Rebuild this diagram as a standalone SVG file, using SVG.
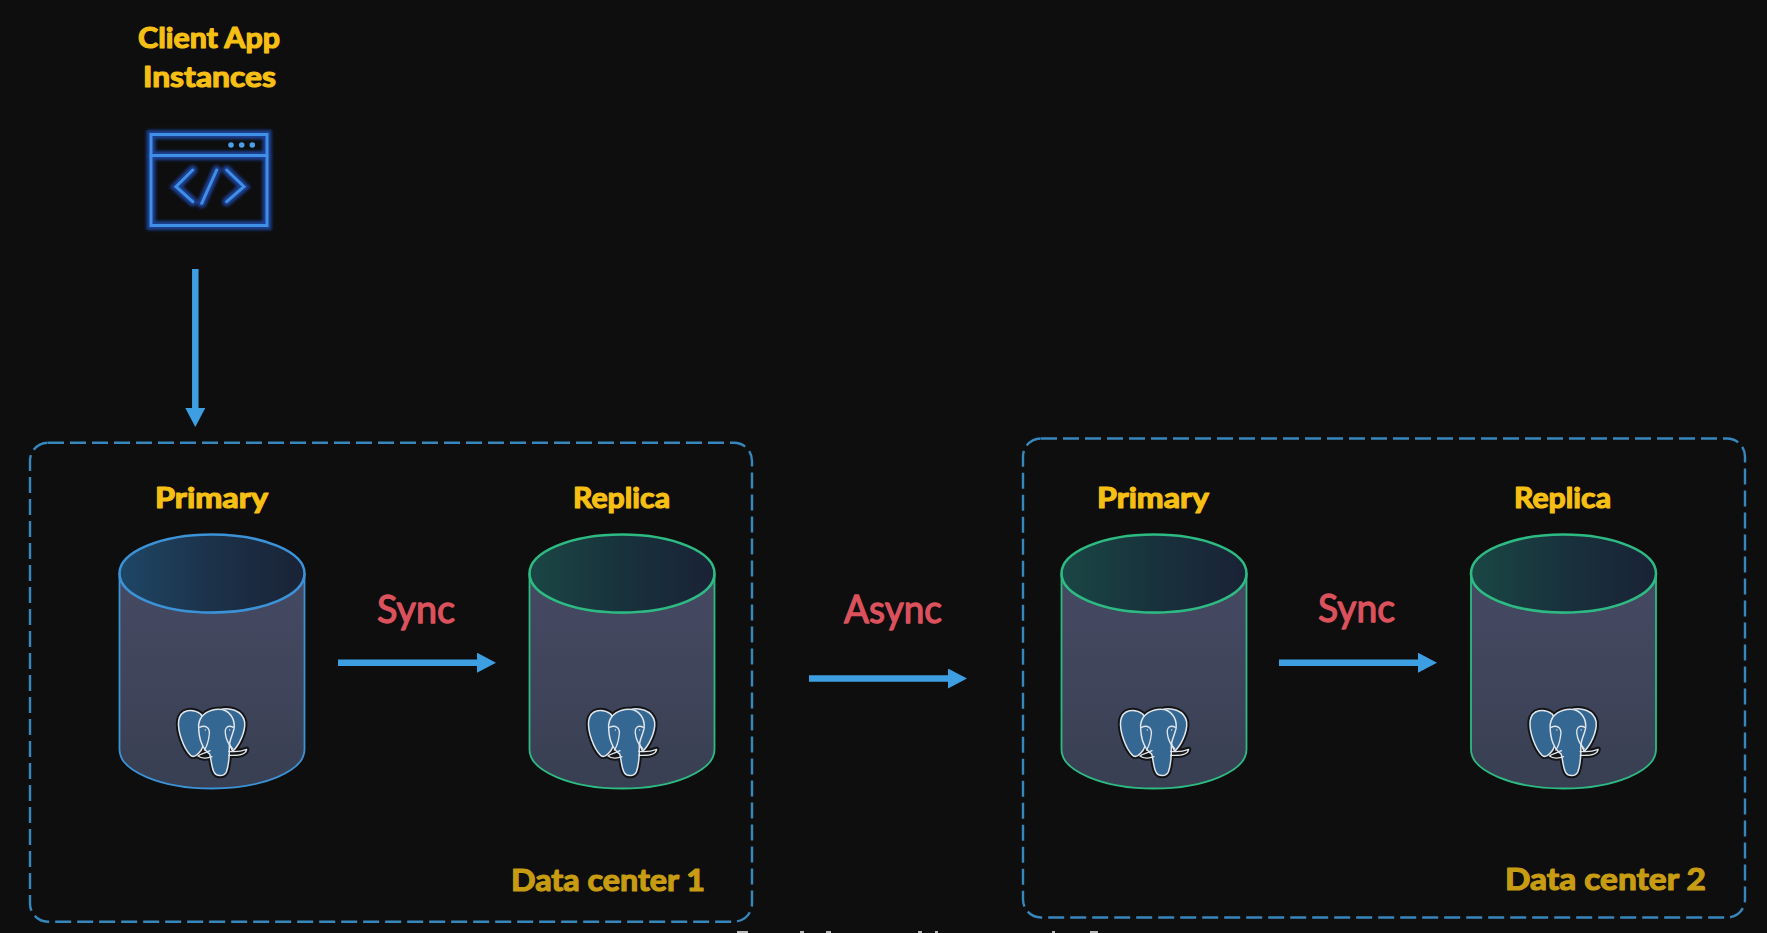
<svg xmlns="http://www.w3.org/2000/svg" xmlns:xlink="http://www.w3.org/1999/xlink" width="1767" height="933" viewBox="0 0 1767 933">
<style>
.lbl{font-family:"Lato","Noto Sans",sans-serif;font-weight:700;stroke-linejoin:round}
.y{fill:#f6bf14;stroke:#f6bf14;stroke-width:1.2;font-size:29px}
.d{fill:#c79c13;stroke:#c79c13;stroke-width:1.2;font-size:31px}
.r{fill:#db525c;stroke:#db525c;stroke-width:1.3;font-size:38px;font-weight:400}
.box{fill:none;stroke:#3787bd;stroke-width:2.4;stroke-dasharray:16 6}
.arrow{stroke:#3d9fe2;stroke-width:6.500;fill:none;marker-end:url(#head)}
.body{fill:url(#bodyG);stroke-width:1.8}
.top{stroke-width:2.6}
.blue{stroke:#3c92d6}.green{stroke:#2dbb83}
.ic{fill:none;stroke:#3f8fe6;stroke-width:3;stroke-linecap:round}
.icg{fill:none;stroke:#1b3f93;stroke-width:9;stroke-linecap:round;filter:url(#glow)}
</style>
<defs>
<linearGradient id="bodyG" x1="0" y1="0" x2="0" y2="1"><stop offset="0" stop-color="#454a63"/><stop offset="1" stop-color="#393f52"/></linearGradient>
<linearGradient id="topB" x1="0" y1="0" x2="1" y2="0"><stop offset="0" stop-color="#1f4666"/><stop offset=".5" stop-color="#1b3249"/><stop offset="1" stop-color="#1a2236"/></linearGradient>
<linearGradient id="topG" x1="0" y1="0" x2="1" y2="0"><stop offset="0" stop-color="#1a4644"/><stop offset=".5" stop-color="#18323c"/><stop offset="1" stop-color="#1a2236"/></linearGradient>
<filter id="glow" x="-20%" y="-20%" width="140%" height="140%"><feGaussianBlur stdDeviation="1.500"/></filter>
<marker id="head" markerUnits="userSpaceOnUse" markerWidth="20" markerHeight="20" refX="1" refY="10" orient="auto"><path d="M0 0L19 10L0 20Z" fill="#3d9fe2"/></marker>
<path id="bodyP" d="M-92.5 0V176A92.5 39 0 0 0 92.5 176V0A92.5 39 0 0 1 -92.5 0Z"/>
<path id="earL" d="M122 72C98 54 62 58 56 92C52 125 72 178 92 196C102 204 112 196 124 180L150 120Z"/>
<path id="earR" d="M178 60C205 50 248 60 254 96C257 126 236 168 218 184L190 120Z"/>
<path id="head1" d="M116 104C120 72 150 58 176 58C208 58 226 86 222 116C218 136 208 150 208 168L208 190C207 212 202 238 199 246C192 260 170 260 163 248C154 234 154 206 149 192C130 180 115 150 116 104Z"/>
<g id="elephant">
 <g fill="#131416" stroke="#131416" stroke-width="16" stroke-linejoin="round"><use href="#earL"/><use href="#earR"/><use href="#head1"/><path d="M206 184C225 186 245 184 260 178C258 192 240 198 206 196Z"/><path d="M150 182C135 190 120 192 114 198C124 206 142 206 156 200Z"/></g>
 <g fill="#356793" stroke="#e0e6ec" stroke-width="4.500" stroke-linejoin="round"><use href="#earL"/><use href="#earR"/><use href="#head1"/></g>
 <g fill="none" stroke="#e0e6ec" stroke-width="4" stroke-linecap="round" stroke-linejoin="round"><path d="M119 112C135 104 150 112 148 132C146 150 142 168 133 180"/><path d="M220 112C205 104 194 112 196 130C198 148 206 164 218 176"/><path d="M206 184C225 186 245 184 260 178C258 192 240 198 206 196"/><path d="M150 182C135 190 120 192 114 198C124 206 142 206 156 200"/></g>
 <circle cx="136" cy="120" r="2" fill="#e0e6ec"/><circle cx="209" cy="120" r="2" fill="#e0e6ec"/>
</g>
</defs>
<rect width="1767" height="933" fill="#0e0e0f"/>

<g id="client-app">
 <text class="lbl y" x="138" y="48" textLength="142" lengthAdjust="spacingAndGlyphs">Client App</text>
 <text class="lbl y" x="143" y="87" textLength="133" lengthAdjust="spacingAndGlyphs">Instances</text>
 <g class="icg"><rect x="151" y="134.500" width="116" height="91"/><path d="M151 155.500H267M192.700 170L176 186.700L192.700 201.700M226.700 170L244 186.700L226.700 201.700M216.700 170L201.700 203.300"/></g>
 <g class="ic"><rect x="151" y="134.500" width="116" height="91"/><path d="M151 155.500H267M192.700 170L176 186.700L192.700 201.700M226.700 170L244 186.700L226.700 201.700M216.700 170L201.700 203.300"/></g>
 <g fill="#4a9fe8"><circle cx="231" cy="145" r="2.800"/><circle cx="241.700" cy="145" r="2.800"/><circle cx="252.300" cy="145" r="2.800"/></g>
</g>

<g id="dc1">
 <rect class="box" x="30" y="442.700" width="722" height="479" rx="18"/>
 <text class="lbl d" x="511" y="890.500" textLength="194" lengthAdjust="spacingAndGlyphs">Data center 1</text>
</g>
<g id="dc2">
 <rect class="box" x="1023" y="438.500" width="722" height="479" rx="18"/>
 <text class="lbl d" x="1505" y="890" textLength="201" lengthAdjust="spacingAndGlyphs">Data center 2</text>
</g>

<g id="connectors">
 <line class="arrow" x1="195.300" y1="269" x2="195.300" y2="409"/>
 <line class="arrow" x1="338" y1="662.700" x2="478" y2="662.700"/>
 <line class="arrow" x1="809" y1="678.500" x2="949" y2="678.500"/>
 <line class="arrow" x1="1279" y1="662.700" x2="1419" y2="662.700"/>
</g>

<g id="primary-1">
 <text class="lbl y" x="155" y="508" textLength="113" lengthAdjust="spacingAndGlyphs">Primary</text>
 <g transform="translate(212,573.500)"><use href="#bodyP" class="body blue"/><ellipse rx="92.500" ry="39" fill="url(#topB)" class="top blue"/><use href="#elephant" transform="translate(-52,116.500) scale(.3333)"/></g>
</g>
<g id="replica-1">
 <text class="lbl y" x="573" y="508" textLength="97" lengthAdjust="spacingAndGlyphs">Replica</text>
 <g transform="translate(622,573.500)"><use href="#bodyP" class="body green"/><ellipse rx="92.500" ry="39" fill="url(#topG)" class="top green"/><use href="#elephant" transform="translate(-52,116.500) scale(.3333)"/></g>
</g>
<g id="primary-2">
 <text class="lbl y" x="1097" y="508" textLength="112" lengthAdjust="spacingAndGlyphs">Primary</text>
 <g transform="translate(1154,573.500)"><use href="#bodyP" class="body green"/><ellipse rx="92.500" ry="39" fill="url(#topG)" class="top green"/><use href="#elephant" transform="translate(-52,116.500) scale(.3333)"/></g>
</g>
<g id="replica-2">
 <text class="lbl y" x="1514" y="508" textLength="97" lengthAdjust="spacingAndGlyphs">Replica</text>
 <g transform="translate(1563.500,573.500)"><use href="#bodyP" class="body green"/><ellipse rx="92.500" ry="39" fill="url(#topG)" class="top green"/><use href="#elephant" transform="translate(-52,116.500) scale(.3333)"/></g>
</g>

<g id="link-labels">
 <text class="lbl r" x="377" y="622.500" textLength="78" lengthAdjust="spacingAndGlyphs">Sync</text>
 <text class="lbl r" x="844" y="622.500" textLength="98" lengthAdjust="spacingAndGlyphs">Async</text>
 <text class="lbl r" x="1318" y="622" textLength="77" lengthAdjust="spacingAndGlyphs">Sync</text>
</g>

<g id="cut-edge" fill="#b9b9b9">
 <rect x="737" y="931" width="11" height="2"/><rect x="800" y="931" width="4" height="2"/><rect x="826" y="931" width="5" height="2"/><rect x="918" y="931" width="4" height="2"/><rect x="935" y="931" width="3" height="2"/><rect x="1052" y="931" width="3" height="2"/><rect x="1090" y="931" width="8" height="2"/>
</g>
</svg>
